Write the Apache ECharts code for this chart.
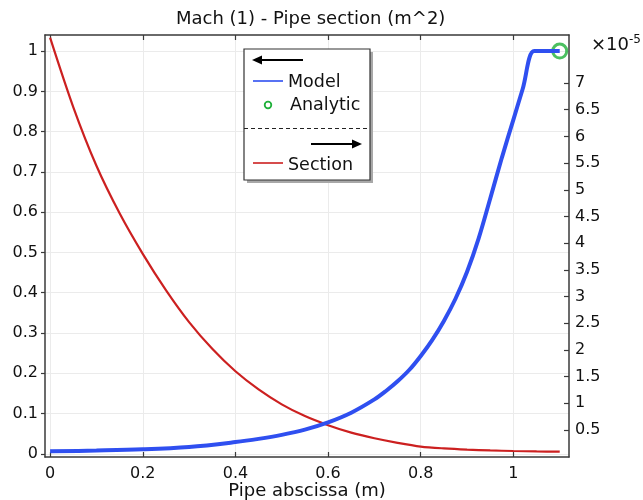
<!DOCTYPE html>
<html>
<head>
<meta charset="utf-8">
<script src="https://cdn.jsdelivr.net/npm/echarts@6/dist/echarts.min.js"></script>
<style>html,body{margin:0;padding:0;background:#fff}#c{width:643px;height:500px}</style>
</head>
<body>
<div id="c"></div>
<script>
// ---- data ----
const xTicks = [0, 0.2, 0.4, 0.6, 0.8, 1];
const machTicks = [0, 0.1, 0.2, 0.3, 0.4, 0.5, 0.6, 0.7, 0.8, 0.9, 1];
const sectionTicks = [0.5, 1, 1.5, 2, 2.5, 3, 3.5, 4, 4.5, 5, 5.5, 6, 6.5, 7];

const modelX = [0, 0.1, 0.2, 0.3, 0.4, 0.45, 0.5, 0.55, 0.6, 0.65, 0.7, 0.725, 0.75, 0.775, 0.8, 0.825, 0.85, 0.875, 0.9, 0.925, 0.95, 0.975, 1.0, 1.02, 1.045, 1.07, 1.1];
const modelMach = [0.006, 0.008, 0.011, 0.017, 0.029, 0.037, 0.047, 0.06, 0.078, 0.102, 0.135, 0.156, 0.18, 0.208, 0.243, 0.283, 0.33, 0.385, 0.452, 0.535, 0.634, 0.735, 0.83, 0.906, 1.0, 1.0, 1.0];

const analyticX = [1.1];
const analyticMach = [1.0];

// section in units of 1e-5 m^2
const sectionX = [0, 0.05, 0.1, 0.15, 0.2, 0.25, 0.3, 0.35, 0.4, 0.45, 0.5, 0.55, 0.6, 0.65, 0.7, 0.75, 0.8, 0.85, 0.9, 0.95, 1.0, 1.05, 1.1];
const sectionVal = [7.85, 6.55, 5.45, 4.56, 3.80, 3.12, 2.52, 2.02, 1.60, 1.26, 0.98, 0.76, 0.59, 0.45, 0.345, 0.26, 0.19, 0.155, 0.132, 0.117, 0.106, 0.098, 0.094];

const FONT = 'DejaVu Sans';
const pairs = (xs, ys) => xs.map((x, i) => [x, ys[i]]);

const chart = echarts.init(document.getElementById('c'), null, {renderer: 'canvas'});
const axisLineStyle = {color: '#3a3a3a', width: 1.5};
const labelStyle = {color: '#111', fontFamily: FONT, fontSize: 16};

// legend box geometry
const LX = 244, LY = 49, LW = 126, LH = 131;

chart.setOption({
  animation: false,
  backgroundColor: '#fff',
  title: {
    text: 'Mach (1) - Pipe section (m^2)',
    left: 171, top: 5,
    textStyle: {fontFamily: FONT, fontSize: 18, fontWeight: 'normal', color: '#111'}
  },
  grid: {left: 45, right: 74, top: 35, bottom: 43, containLabel: false, outerBoundsMode: 'none'},
  xAxis: [{
    type: 'value', position: 'bottom', min: -0.011, max: 1.12,
    axisLine: {show: true, onZero: false, lineStyle: axisLineStyle},
    axisTick: {show: true, inside: true, length: 5, customValues: xTicks, lineStyle: {color: '#3a3a3a', width: 1.2}},
    axisLabel: Object.assign({customValues: xTicks, margin: 9}, labelStyle),
    splitLine: {show: true, lineStyle: {color: '#ebebeb', width: 1}},
    name: 'Pipe abscissa (m)', nameLocation: 'middle', nameGap: 25, nameMoveOverlap: false,
    nameTextStyle: {fontFamily: FONT, fontSize: 18, color: '#111'}
  }, {
    type: 'value', position: 'top', min: -0.011, max: 1.12,
    axisLine: {show: true, onZero: false, lineStyle: axisLineStyle},
    axisTick: {show: true, inside: true, length: 5, customValues: xTicks, lineStyle: {color: '#3a3a3a', width: 1.2}},
    axisLabel: {show: false},
    splitLine: {show: false}
  }],
  yAxis: [{
    type: 'value', position: 'left', min: -0.008, max: 1.04,
    axisLine: {show: true, onZero: false, lineStyle: axisLineStyle},
    axisTick: {show: true, inside: false, length: 4, customValues: machTicks, lineStyle: {color: '#3a3a3a', width: 1.2}},
    axisLabel: Object.assign({customValues: machTicks, margin: 7}, labelStyle),
    splitLine: {show: true, lineStyle: {color: '#ebebeb', width: 1}}
  }, {
    type: 'value', position: 'right', min: -0.006, max: 7.9,
    axisLine: {show: true, onZero: false, lineStyle: axisLineStyle},
    axisTick: {show: true, inside: true, length: 5, customValues: sectionTicks, lineStyle: {color: '#3a3a3a', width: 1.2}},
    axisLabel: Object.assign({customValues: sectionTicks, margin: 6}, labelStyle),
    splitLine: {show: false}
  }],
  series: [{
    name: 'Section', type: 'line', xAxisIndex: 0, yAxisIndex: 1,
    data: pairs(sectionX, sectionVal), smooth: 0.3, symbol: 'none',
    lineStyle: {color: '#cc2020', width: 2.2}
  }, {
    name: 'Model', type: 'line', xAxisIndex: 0, yAxisIndex: 0,
    data: pairs(modelX, modelMach), smooth: 0.35, symbol: 'none',
    lineStyle: {color: '#2f4ff0', width: 4}
  }, {
    name: 'Analytic', type: 'scatter', xAxisIndex: 0, yAxisIndex: 0,
    data: pairs(analyticX, analyticMach), symbol: 'circle', symbolSize: 14,
    itemStyle: {color: 'rgba(0,0,0,0)', borderColor: '#1fb03a', borderWidth: 3}
  }],
  graphic: [
    // multiplier
    {type: 'text', left: 591, top: 34, style: {
      text: '×10{s|-5}', fontFamily: FONT, fontSize: 18, fill: '#111',
      rich: {s: {fontFamily: FONT, fontSize: 12, verticalAlign: 'top', padding: [0, 0, 10, 0], fill: '#111'}}
    }},
    // legend shadow + box
    {type: 'rect', shape: {x: LX + 3, y: LY + 3, width: LW, height: LH}, style: {fill: '#a8a8a8'}, z: 100},
    {type: 'rect', shape: {x: LX, y: LY, width: LW, height: LH}, style: {fill: '#fff', stroke: '#333', lineWidth: 1.2}, z: 101},
    // left arrow
    {type: 'line', shape: {x1: 258, y1: 60, x2: 303, y2: 60}, style: {stroke: '#000', lineWidth: 2}, z: 102},
    {type: 'polygon', shape: {points: [[252, 60], [262, 55.5], [262, 64.5]]}, style: {fill: '#000'}, z: 102},
    // Model
    {type: 'line', shape: {x1: 253, y1: 81, x2: 283, y2: 81}, style: {stroke: '#2f4ff0', lineWidth: 1.6}, z: 102},
    {type: 'text', x: 288, y: 82, style: {text: 'Model', fontFamily: FONT, fontSize: 17.5, fill: '#111', verticalAlign: 'middle'}, z: 102},
    // Analytic
    {type: 'circle', shape: {cx: 268, cy: 105, r: 3.3}, style: {fill: 'none', stroke: '#1fb03a', lineWidth: 1.8}, z: 102},
    {type: 'text', x: 290, y: 105, style: {text: 'Analytic', fontFamily: FONT, fontSize: 17.5, fill: '#111', verticalAlign: 'middle'}, z: 102},
    // separator
    {type: 'line', shape: {x1: LX, y1: 128.5, x2: LX + LW, y2: 128.5}, style: {stroke: '#222', lineWidth: 1.2, lineDash: [4, 3]}, z: 102},
    // right arrow
    {type: 'line', shape: {x1: 311, y1: 144, x2: 356, y2: 144}, style: {stroke: '#000', lineWidth: 2}, z: 102},
    {type: 'polygon', shape: {points: [[362, 144], [352, 139.5], [352, 148.5]]}, style: {fill: '#000'}, z: 102},
    // Section
    {type: 'line', shape: {x1: 253, y1: 163, x2: 283, y2: 163}, style: {stroke: '#cc2020', lineWidth: 1.6}, z: 102},
    {type: 'text', x: 288, y: 165, style: {text: 'Section', fontFamily: FONT, fontSize: 17.5, fill: '#111', verticalAlign: 'middle'}, z: 102}
  ]
});
</script>
</body>
</html>
